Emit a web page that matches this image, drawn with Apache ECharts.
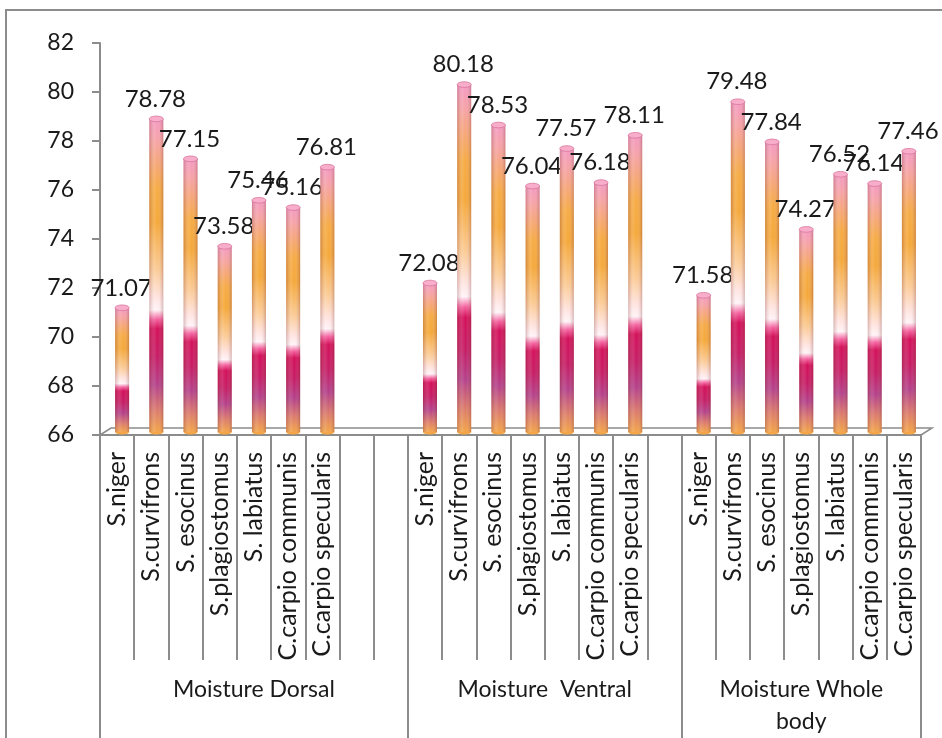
<!DOCTYPE html>
<html>
<head>
<meta charset="utf-8">
<script src="https://cdn.jsdelivr.net/npm/echarts@6/dist/echarts.min.js"></script>
<style>
  html, body { margin: 0; padding: 0; background: #ffffff; }
  #chart { width: 942px; height: 738px; }
</style>
</head>
<body>
<div id="chart"></div>
<script>
// Moisture content (%) of seven fish species, by body region
const species = ['S.niger', 'S.curvifrons', 'S. esocinus', 'S.plagiostomus', 'S. labiatus', 'C.carpio communis', 'C.carpio specularis'];
const groupNames = ['Moisture Dorsal', 'Moisture  Ventral', 'Moisture Whole\nbody'];
const dorsal = [71.07, 78.78, 77.15, 73.58, 75.46, 75.16, 76.81];
const ventral = [72.08, 80.18, 78.53, 76.04, 77.57, 76.18, 78.11];
const wholeBody = [71.58, 79.48, 77.84, 74.27, 76.52, 76.14, 77.46];
const emptySlotsAfter = [2, 1, 0];
const yTicks = { min: 66, max: 82, step: 2 };

// Lay the three groups out on one category axis, with blank slots between them
const groupValues = [dorsal, ventral, wholeBody];
const categories = [];
const barData = [];
const groupEdges = [0];
const groupCenters = [];
groupValues.forEach(function (vals, g) {
  const start = categories.length;
  vals.forEach(function (v, i) {
    barData.push([categories.length, v]);
    categories.push(species[i]);
  });
  for (let k = 0; k < emptySlotsAfter[g]; k++) categories.push('');
  groupEdges.push(categories.length);
  groupCenters.push((start + categories.length) / 2);
});
const slotCount = categories.length;

const axisGray = '#8c8c8c';
const textColor = '#1a1a1a';
const fontFamily = 'Lato, "Open Sans", sans-serif';

// Cylinder body colours, top to bottom
const bodyGradient = [
  { offset: 0.00, color: '#F49AC4' },
  { offset: 0.07, color: '#F6A3A6' },
  { offset: 0.22, color: '#F6AB45' },
  { offset: 0.33, color: '#F5A83A' },
  { offset: 0.48, color: '#FBCB95' },
  { offset: 0.57, color: '#FFE4E0' },
  { offset: 0.61, color: '#FFF3F7' },
  { offset: 0.64, color: '#F4609E' },
  { offset: 0.67, color: '#D3105A' },
  { offset: 0.76, color: '#C61C64' },
  { offset: 0.85, color: '#B4418A' },
  { offset: 0.93, color: '#DB7A6C' },
  { offset: 1.00, color: '#F3A548' }
];

function renderCylinder(params, api) {
  const idx = api.value(0);
  const val = api.value(1);
  const top = api.coord([idx, val]);
  const base = api.coord([idx, yTicks.min]);
  const shiftX = 5, shiftY = -3;
  const w = 14;
  const cx = top[0] + shiftX;
  const yTop = top[1] + shiftY;
  const yBot = base[1] + shiftY;
  const h = yBot - yTop;
  return {
    type: 'group',
    children: [
      {
        type: 'ellipse',
        shape: { cx: cx, cy: yBot, rx: w / 2, ry: 2.5 },
        style: { fill: '#F3A548' }
      },
      {
        type: 'rect',
        shape: { x: cx - w / 2, y: yTop, width: w, height: h },
        style: { fill: new echarts.graphic.LinearGradient(0, 0, 0, 1, bodyGradient) }
      },
      {
        type: 'rect',
        shape: { x: cx - w / 2, y: yTop, width: w, height: h },
        style: {
          fill: new echarts.graphic.LinearGradient(0, 0, 1, 0, [
            { offset: 0, color: 'rgba(120,40,40,0.28)' },
            { offset: 0.35, color: 'rgba(255,255,255,0.12)' },
            { offset: 0.6, color: 'rgba(255,255,255,0)' },
            { offset: 1, color: 'rgba(120,40,40,0.30)' }
          ])
        }
      },
      {
        type: 'ellipse',
        shape: { cx: cx, cy: yTop, rx: w / 2, ry: 2.8 },
        style: { fill: '#F8AECB', stroke: '#D8759A', lineWidth: 0.8 }
      },
      {
        type: 'text',
        style: {
          text: val.toFixed(2),
          x: cx - 1,
          y: yTop - 8,
          align: 'center',
          verticalAlign: 'bottom',
          fill: textColor,
          font: '24px ' + fontFamily
        }
      }
    ]
  };
}

const chart = echarts.init(document.getElementById('chart'), null, { renderer: 'canvas' });

chart.setOption({
  animation: false,
  backgroundColor: '#ffffff',
  grid: { left: 100, right: 21, top: 43, bottom: 303, containLabel: false, outerBoundsMode: 'none' },
  xAxis: [
    {
      type: 'category',
      data: categories,
      boundaryGap: true,
      position: 'bottom',
      axisLine: { show: true, lineStyle: { color: axisGray, width: 2 } },
      axisTick: { show: true, interval: 0, length: 225, lineStyle: { color: axisGray, width: 2 } },
      axisLabel: {
        interval: 0, rotate: 90, margin: 17,
        fontSize: 25, fontFamily: fontFamily, color: textColor
      },
      splitLine: { show: false }
    },
    {
      type: 'value',
      min: 0,
      max: slotCount,
      position: 'bottom',
      axisLine: { show: false },
      axisTick: {
        show: true, length: 320, customValues: groupEdges,
        lineStyle: { color: axisGray, width: 2 }
      },
      axisLabel: {
        show: true, customValues: groupCenters, margin: 239,
        verticalAlign: 'top', lineHeight: 32,
        fontSize: 23, fontFamily: fontFamily, color: textColor,
        formatter: function (v) {
          const g = groupCenters.indexOf(v);
          return g >= 0 ? groupNames[g] : '';
        }
      },
      splitLine: { show: false }
    }
  ],
  yAxis: {
    type: 'value',
    min: yTicks.min,
    max: yTicks.max,
    interval: yTicks.step,
    axisLine: { show: true, lineStyle: { color: axisGray, width: 2 } },
    axisTick: { show: true, length: 8, lineStyle: { color: axisGray, width: 2 } },
    axisLabel: { margin: 26, fontSize: 23, fontFamily: fontFamily, color: textColor },
    splitLine: { show: false }
  },
  series: [
    {
      type: 'custom',
      xAxisIndex: 0,
      yAxisIndex: 0,
      renderItem: renderCylinder,
      data: barData,
      clip: false,
      z: 5
    }
  ]
});

// Chart frame and the 3-D floor under the bars, placed from the axes
const floorL = chart.convertToPixel({ xAxisIndex: 1, yAxisIndex: 0 }, [0, yTicks.min]);
const floorR = chart.convertToPixel({ xAxisIndex: 1, yAxisIndex: 0 }, [slotCount, yTicks.min]);
const depthX = 11, depthY = -7;
chart.setOption({
  graphic: [
    {
      type: 'rect', silent: true, z: -1,
      shape: { x: 6, y: 10, width: 1000, height: 1000 },
      style: { fill: 'none', stroke: axisGray, lineWidth: 2 }
    },
    {
      type: 'polyline', silent: true, z: 1,
      shape: { points: [
        floorL,
        [floorL[0] + depthX, floorL[1] + depthY],
        [floorR[0] + depthX, floorR[1] + depthY],
        floorR
      ] },
      style: { fill: 'none', stroke: axisGray, lineWidth: 1.5 }
    }
  ]
});
</script>
</body>
</html>
